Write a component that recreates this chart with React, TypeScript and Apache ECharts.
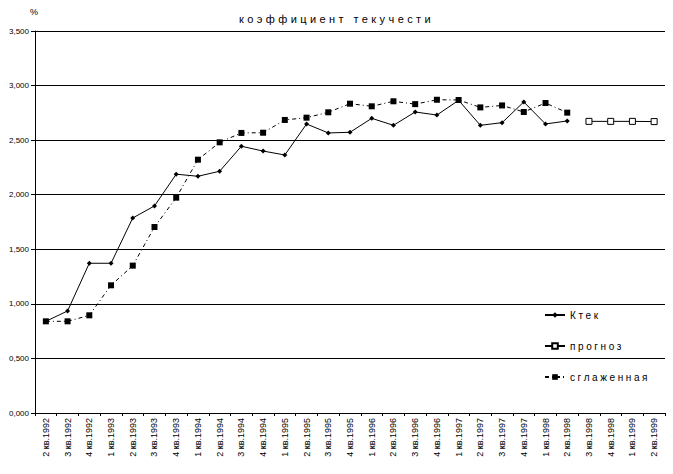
import React, { useEffect, useRef } from "react";
import * as echarts from "echarts";

const categories = [
  "2 кв.1992", "3 кв.1992", "4 кв.1992",
  "1 кв.1993", "2 кв.1993", "3 кв.1993", "4 кв.1993",
  "1 кв.1994", "2 кв.1994", "3 кв.1994", "4 кв.1994",
  "1 кв.1995", "2 кв.1995", "3 кв.1995", "4 кв.1995",
  "1 кв.1996", "2 кв.1996", "3 кв.1996", "4 кв.1996",
  "1 кв.1997", "2 кв.1997", "3 кв.1997", "4 кв.1997",
  "1 кв.1998", "2 кв.1998", "3 кв.1998", "4 кв.1998",
  "1 кв.1999", "2 кв.1999",
];

const ktek = [
  0.84, 0.935, 1.372, 1.372, 1.787, 1.897, 2.188, 2.169, 2.215, 2.444,
  2.40, 2.364, 2.648, 2.566, 2.572, 2.70, 2.636, 2.758, 2.73, 2.865,
  2.636, 2.66, 2.85, 2.648, 2.676, null, null, null, null,
];

const prognoz = [
  null, null, null, null, null, null, null, null, null, null,
  null, null, null, null, null, null, null, null, null, null,
  null, null, null, null, null, 2.672, 2.672, 2.672, 2.67,
];

const smoothed = [
  0.84, 0.84, 0.895, 1.17, 1.35, 1.704, 1.973, 2.321, 2.48, 2.566,
  2.568, 2.685, 2.706, 2.755, 2.834, 2.81, 2.856, 2.83, 2.87, 2.868,
  2.80, 2.818, 2.758, 2.84, 2.752, null, null, null, null,
];

const titleText = "коэффициент текучести";
const seriesNames = ["Ктек", "прогноз", "сглаженная"];

const FONT = "Liberation Sans, Arial, sans-serif";

export default function App() {
  const ref = useRef<HTMLDivElement>(null);
  useEffect(() => {
    if (!ref.current) return;
    const chart = echarts.init(ref.current, null, { renderer: "svg" });
    chart.setOption({
      animation: false,
      backgroundColor: "#ffffff",
      textStyle: { fontFamily: FONT, color: "#000" },
      title: {
        text: titleText,
        left: "center",
        top: 8,
        textStyle: { fontSize: 11, fontWeight: "normal", color: "#000", fontFamily: FONT },
      },
      graphic: [
        {
          type: "text",
          left: 30,
          top: 7,
          style: { text: "%", fontSize: 9, fill: "#000", fontFamily: FONT },
        },
      ],
      legend: {
        orient: "vertical",
        left: 539,
        top: 305,
        itemWidth: 20,
        itemHeight: 7,
        itemGap: 21,
        data: seriesNames,
        textStyle: { fontSize: 10, color: "#000", fontFamily: FONT },
      },
      grid: { left: 35, right: 8, top: 31, bottom: 61, containLabel: false },
      xAxis: {
        type: "category",
        data: categories,
        boundaryGap: true,
        axisLine: { lineStyle: { color: "#000", width: 1 } },
        axisTick: { show: true, interval: 0, length: 3, lineStyle: { color: "#000" } },
        axisLabel: { interval: 0, rotate: 90, fontSize: 9, color: "#000", margin: 5, fontFamily: FONT },
        splitLine: { show: false },
      },
      yAxis: {
        type: "value",
        min: 0,
        max: 3.5,
        interval: 0.5,
        axisLine: { show: true, lineStyle: { color: "#000", width: 1 } },
        axisTick: { show: true, length: 4, lineStyle: { color: "#000" } },
        axisLabel: {
          fontSize: 8,
          color: "#000",
          margin: 6,
          fontFamily: FONT,
          formatter: (v: number) => v.toFixed(3).replace(".", ","),
        },
        splitLine: { show: true, lineStyle: { color: "#000", width: 1 } },
      },
      series: [
        {
          name: seriesNames[0],
          type: "line",
          data: ktek,
          symbol: "diamond",
          symbolSize: 5,
          itemStyle: { color: "#000" },
          lineStyle: { color: "#000", width: 1 },
        },
        {
          name: seriesNames[1],
          type: "line",
          data: prognoz,
          symbol: "rect",
          symbolSize: 6,
          itemStyle: { color: "#fff", borderColor: "#000", borderWidth: 1 },
          lineStyle: { color: "#000", width: 1 },
        },
        {
          name: seriesNames[2],
          type: "line",
          data: smoothed,
          symbol: "rect",
          symbolSize: 6,
          itemStyle: { color: "#000" },
          lineStyle: { color: "#000", width: 1, type: [4, 3, 1, 3] },
        },
      ],
    });

    const spaced = new Set<string>([titleText, ...seriesNames]);
    const applySpacing = () => {
      if (!ref.current) return;
      ref.current.querySelectorAll("text").forEach((t) => {
        const s = (t.textContent || "").trim();
        if (spaced.has(s)) {
          (t as SVGTextElement).style.letterSpacing = s === titleText ? "3.4px" : "2.6px";
        }
      });
    };
    chart.on("finished", applySpacing);
    const timer = setTimeout(applySpacing, 50);
    return () => {
      clearTimeout(timer);
      chart.dispose();
    };
  }, []);
  return (
    <div
      ref={ref}
      style={{ position: "fixed", left: 0, top: 0, width: 673, height: 474 }}
    />
  );
}
